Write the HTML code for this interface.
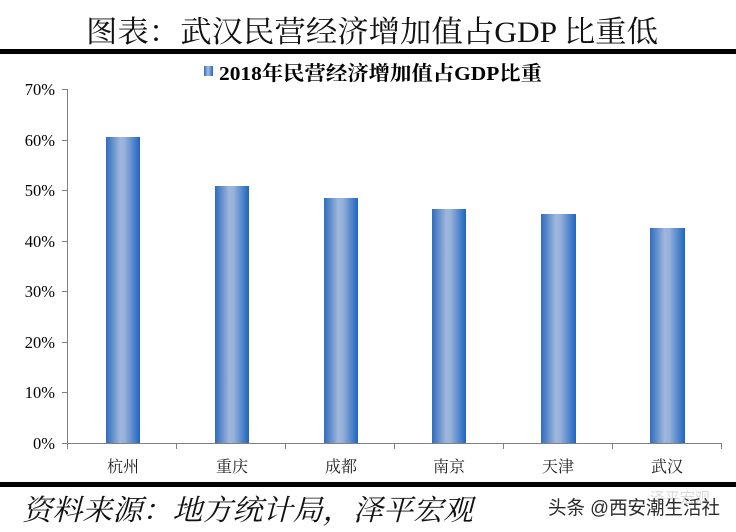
<!DOCTYPE html>
<html><head><meta charset="utf-8"><style>
html,body{margin:0;padding:0;background:#fff;}
svg{display:block;}
</style></head><body>
<svg width="736" height="532" viewBox="0 0 736 532" xmlns="http://www.w3.org/2000/svg">
<defs>
<linearGradient id="bg" x1="0" y1="0" x2="1" y2="0">
<stop offset="0" stop-color="#2f6cc0"/>
<stop offset="0.42" stop-color="#9fb7db"/>
<stop offset="0.55" stop-color="#96b1da"/>
<stop offset="1" stop-color="#1f65c0"/>
</linearGradient>
</defs>
<rect width="736" height="532" fill="#fff"/>
<text x="86" y="42" font-family="'Liberation Serif','Noto Serif CJK SC',serif" font-size="30" fill="#111" textLength="572" lengthAdjust="spacingAndGlyphs">图表：武汉民营经济增加值占GDP 比重低</text>
<rect x="0" y="49" width="736" height="5" fill="#000"/>
<rect x="204" y="66" width="9" height="10" fill="url(#bg)"/>
<text x="219" y="80" font-family="'Liberation Serif','Noto Serif CJK SC',serif" font-weight="bold" font-size="20" fill="#000" textLength="323" lengthAdjust="spacingAndGlyphs">2018年民营经济增加值占GDP比重</text>
<g stroke="#808080" stroke-width="1">
<line x1="67.5" y1="89" x2="67.5" y2="443"/>
<line x1="67" y1="443.5" x2="722" y2="443.5"/>
<line x1="62" y1="89.5" x2="67" y2="89.5"/>
<line x1="62" y1="140.5" x2="67" y2="140.5"/>
<line x1="62" y1="190.5" x2="67" y2="190.5"/>
<line x1="62" y1="241.5" x2="67" y2="241.5"/>
<line x1="62" y1="291.5" x2="67" y2="291.5"/>
<line x1="62" y1="342.5" x2="67" y2="342.5"/>
<line x1="62" y1="392.5" x2="67" y2="392.5"/>
<line x1="62" y1="443.5" x2="67" y2="443.5"/>
<line x1="67.5" y1="443" x2="67.5" y2="449"/>
<line x1="176.5" y1="443" x2="176.5" y2="449"/>
<line x1="285.5" y1="443" x2="285.5" y2="449"/>
<line x1="394.5" y1="443" x2="394.5" y2="449"/>
<line x1="503.5" y1="443" x2="503.5" y2="449"/>
<line x1="612.5" y1="443" x2="612.5" y2="449"/>
<line x1="721.5" y1="443" x2="721.5" y2="449"/>
</g>
<g font-family="'Liberation Serif',serif" font-size="16.5" fill="#000" text-anchor="end">
<text x="55" y="95">70%</text>
<text x="55" y="146">60%</text>
<text x="55" y="196">50%</text>
<text x="55" y="247">40%</text>
<text x="55" y="297">30%</text>
<text x="55" y="348">20%</text>
<text x="55" y="398">10%</text>
<text x="55" y="449">0%</text>
</g>
<g fill="url(#bg)">
<rect x="106" y="137" width="34" height="306"/>
<rect x="215" y="186" width="34" height="257"/>
<rect x="324" y="198" width="34" height="245"/>
<rect x="432" y="209" width="34" height="234"/>
<rect x="541" y="214" width="35" height="229"/>
<rect x="650" y="228" width="35" height="215"/>
</g>
<g font-family="'Liberation Serif','Noto Serif CJK SC',serif" font-size="16" fill="#222" text-anchor="middle">
<text x="123" y="472">杭州</text>
<text x="232" y="472">重庆</text>
<text x="341" y="472">成都</text>
<text x="449" y="472">南京</text>
<text x="558" y="472">天津</text>
<text x="667" y="472">武汉</text>
</g>
<rect x="0" y="482" width="736" height="5" fill="#000"/>
<text x="22" y="520" font-family="'Liberation Serif','Noto Serif CJK SC',serif" font-style="italic" font-size="29" fill="#111" textLength="451" lengthAdjust="spacingAndGlyphs">资料来源：地方统计局，泽平宏观</text>
<text x="650" y="503" font-family="'Liberation Sans','Noto Sans CJK SC',sans-serif" font-size="15" fill="#d8d8d8">泽平宏观</text>
<text x="548" y="514" font-family="'Liberation Sans','Noto Sans CJK SC',sans-serif" font-size="19" fill="#2a2a2a" textLength="172" lengthAdjust="spacingAndGlyphs">头条 @西安潮生活社</text>
</svg>
</body></html>
